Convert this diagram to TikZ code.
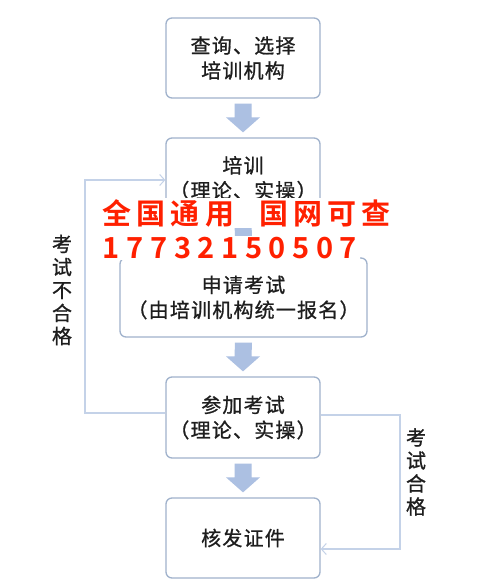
\documentclass[tikz,border=0pt]{standalone}
\usepackage{fontspec}
\setmainfont{Noto Sans CJK SC}[FakeBold=0.9]
\newfontfamily\wmfont{Noto Sans CJK SC Bold}
\usetikzlibrary{arrows.meta,calc}
\definecolor{boxline}{RGB}{160,178,204}
\definecolor{arrfill}{RGB}{172,192,226}
\definecolor{conncol}{RGB}{196,210,232}
\definecolor{wmred}{RGB}{255,32,0}
\definecolor{txt}{RGB}{30,30,30}
\newcommand{\wmc}[1]{\makebox[34.3pt][l]{#1}}
\newcommand{\wmd}[1]{\makebox[23.7pt][c]{#1}}
\tikzset{
  stepbox/.style={draw=boxline,line width=1.3pt,rounded corners=6pt,fill=white,
    minimum width=154pt,minimum height=80pt,align=center,inner sep=0pt,
    font=\fontsize{20}{25}\selectfont\addfontfeature{LetterSpace=6},text=txt},
  conn/.style={draw=conncol,line width=1.1pt,-{Straight Barb[length=5pt,width=11pt,line width=1pt]}},
  side/.style={align=center,font=\fontsize{20}{23}\selectfont,text=txt,inner sep=0pt},
  wm/.style={text=wmred,fill=white,inner xsep=0pt,inner ysep=1pt,anchor=west,font=\wmfont\fontsize{29}{30}\selectfont}
}
\newcommand{\blockarrow}[2]{% top point, bottom point (same x)
  \fill[arrfill] ($(#1)+(-8.5,0)$) -- ($(#1)+(8.5,0)$) -- ($(#2)+(8.5,-15)$) -- ($(#2)+(17,-15)$) -- (#2) -- ($(#2)+(-17,-15)$) -- ($(#2)+(-8.5,-15)$) -- cycle;}
\begin{document}
\begin{tikzpicture}[x=1pt,y=-1pt]
\useasboundingbox[fill=white] (0,0) rectangle (500,587);
\node[stepbox] (b1) at (243,58) {查询、选择\\培训机构};
\node[stepbox] (b2) at (243,178) {培训\\（理论、实操）};
\node[stepbox,minimum width=247pt,minimum height=79pt] (b3) at (243.5,297.5) {申请考试\\（由培训机构统一报名）};
\node[stepbox,minimum height=81pt] (b4) at (243,417.5) {参加考试\\（理论、实操）};
\node[stepbox] (b5) at (243,538) {核发证件};
% block arrows
\coordinate (a1t) at ($(b1.south)+(0,5)$); \coordinate (a1b) at ($(b2.north)+(0,-5)$);
\coordinate (a2t) at ($(b2.south)+(0,5)$); \coordinate (a2b) at ($(b3.north)+(0,-5)$);
\coordinate (a3t) at ($(b3.south)+(0,5)$); \coordinate (a3b) at ($(b4.north)+(0,-5)$);
\coordinate (a4t) at ($(b4.south)+(0,5)$); \coordinate (a4b) at ($(b5.north)+(0,-5)$);
\blockarrow{a1t}{a1b}
\blockarrow{a2t}{a2b}
\blockarrow{a3t}{a3b}
\blockarrow{a4t}{a4b}
% loops
\coordinate (lft) at (85,413);
\draw[conn] ([yshift=4.5pt]b4.west) -- (lft) |- ([yshift=-2pt]b2.west);
\coordinate (rgt) at (400,415);
\draw[conn] ([yshift=2.5pt]b4.east) -- (rgt) |- ([yshift=-11pt]b5.east);
\node[side] (l1) at (62,290) {考\\试\\不\\合\\格};
\node[side] (l2) at (416,472) {考\\试\\合\\格};
% watermark
\node[wm] (w1) at (102,213) {\wmc{全}\wmc{国}\wmc{通}\makebox[54pt][l]{用}\wmc{国}\wmc{网}\wmc{可}\makebox[31pt][l]{查}};
\node[wm] (w2) at (99.5,248) {\wmd{1}\wmd{7}\wmd{7}\wmd{3}\wmd{2}\wmd{1}\wmd{5}\wmd{0}\wmd{5}\wmd{0}\wmd{7}};
\end{tikzpicture}
\end{document}
